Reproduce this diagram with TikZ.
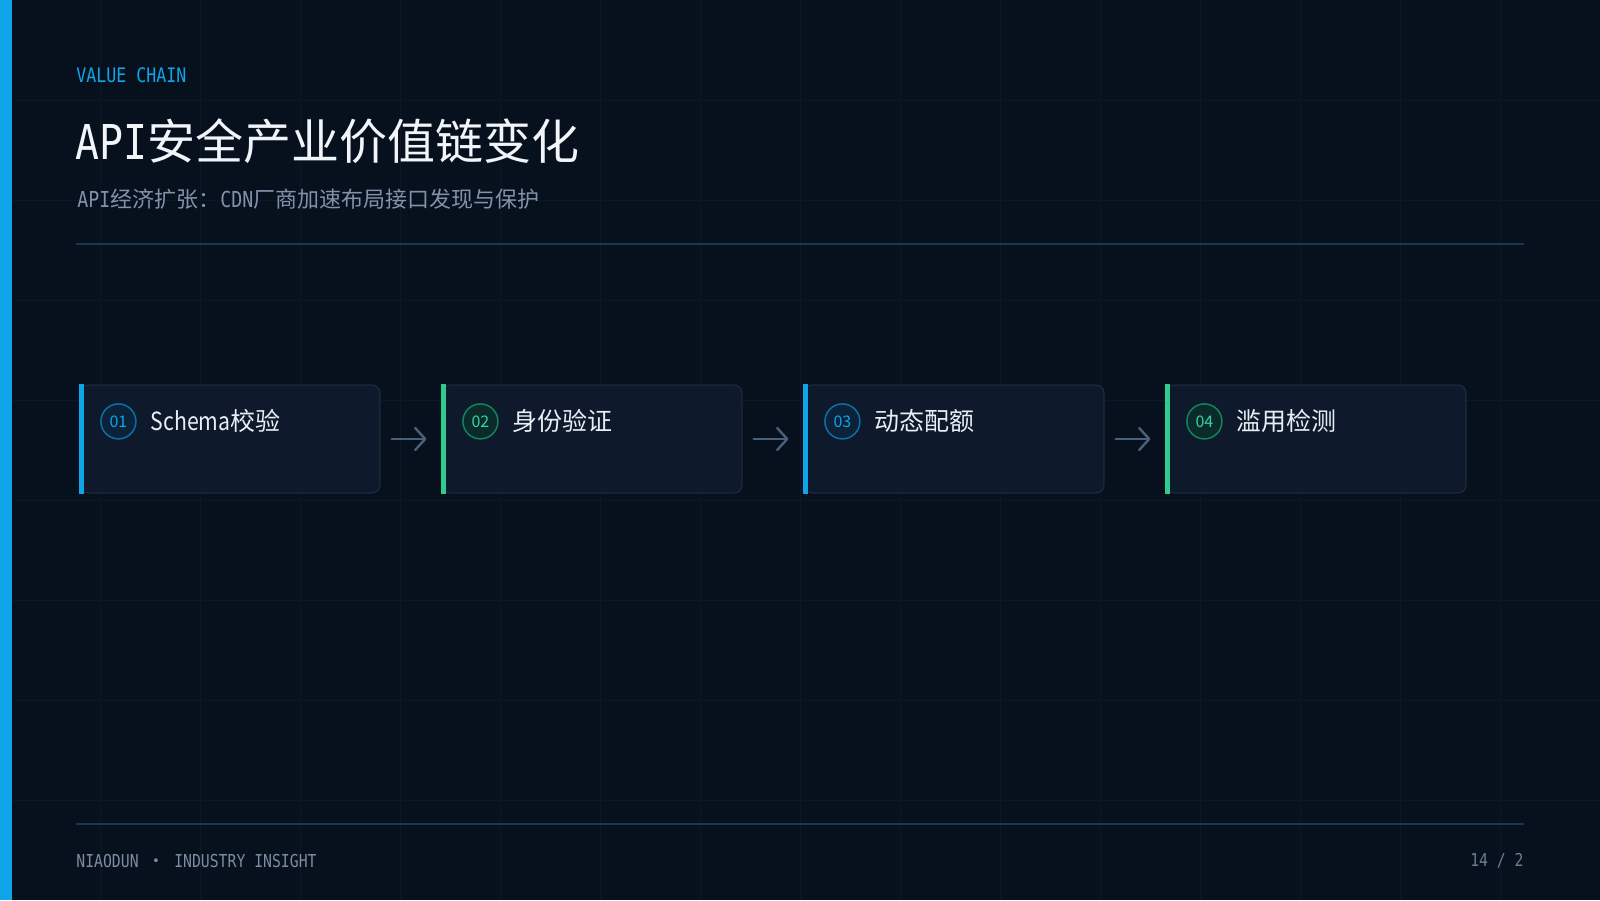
\documentclass[tikz,border=0pt]{standalone}
\usepackage{fontspec}
\setmainfont{Noto Sans CJK SC}
\newfontfamily\monofont[FakeStretch=0.83]{DejaVu Sans Mono}
\newfontfamily\narrowfont[FakeStretch=0.85]{Noto Sans CJK SC}
\usetikzlibrary{positioning,arrows.meta}

\definecolor{bgnavy}{HTML}{07101D}
\definecolor{gridc}{HTML}{0C1828}
\definecolor{skyblue}{HTML}{0EA5E9}
\definecolor{mint}{HTML}{2ECC8F}
\definecolor{titlec}{HTML}{F1F5F9}
\definecolor{subc}{HTML}{8193AB}
\definecolor{rulec}{HTML}{1E3452}
\definecolor{cardfill}{HTML}{0E1A2B}
\definecolor{cardline}{HTML}{1C2A3D}
\definecolor{arrowc}{HTML}{4A5F7B}
\definecolor{footc}{HTML}{7B8CA3}
\definecolor{pagec}{HTML}{6B7C93}
\definecolor{labelc}{HTML}{E8EEF5}
\definecolor{bluering}{HTML}{0B6FA6}
\definecolor{bluedisk}{HTML}{0B2239}
\definecolor{greenring}{HTML}{15805C}
\definecolor{greendisk}{HTML}{0B2A2A}
\definecolor{greennum}{HTML}{33D6A0}

\tikzset{
  gridline/.style={gridc, line width=0.5pt},
  rulel/.style={rulec, line width=1pt},
  card/.style={rectangle, rounded corners=4pt, fill=cardfill, draw=cardline,
    line width=0.6pt, minimum width=150pt, minimum height=54pt, inner sep=0pt},
  accent/.style={line width=2.5pt},
  badge/.style={circle, minimum size=17.5pt, inner sep=0pt, line width=0.75pt,
    font=\fontsize{8}{9}\selectfont},
  steplabel/.style={anchor=west, inner sep=0pt, text=labelc,
    font=\fontsize{12.5}{14}\selectfont},
  flow/.style={arrowc, line width=1.2pt, line cap=round,
    -{Straight Barb[length=5pt,width=11pt,round]}},
  txt/.style={anchor=west, inner sep=0pt}
}

\begin{document}
\begin{tikzpicture}[x=0.5pt, y=-0.5pt]
  \useasboundingbox (0,0) rectangle (1600,900);
  \fill[bgnavy] (0,0) rectangle (1600,900);
  % grid
  \foreach \x in {100,200,...,1500} \draw[gridline] (\x,0) -- (\x,900);
  \foreach \y in {100,200,...,800} \draw[gridline] (0,\y) -- (1600,\y);
  \fill[skyblue] (0,0) rectangle (12,900);

  % header
  \node[txt, text=skyblue, font=\monofont\fontsize{10}{12}\selectfont] (kicker) at (76,75) {VALUE CHAIN};
  \node[txt, text=titlec, font=\fontsize{24}{28}\selectfont] (title) at (75,141) {{\monofont API}安全产业价值链变化};
  \node[txt, text=subc, font=\fontsize{11}{14}\selectfont] (subtitle) at (77,199) {{\monofont API}经济扩张：{\monofont CDN}厂商加速布局接口发现与保护};
  \draw[rulel] (76,244) -- (1524,244);

  % stages
  \node[card] (s1) at (230,439) {};
  \node[card, right=30.4pt of s1] (s2) {};
  \node[card, right=30.4pt of s2] (s3) {};
  \node[card, right=30.4pt of s3] (s4) {};

  \foreach \i/\lab/\acc/\ring/\disk/\num in {
      1/{{\narrowfont Schema}校验}/skyblue/bluering/bluedisk/skyblue,
      2/身份验证/mint/greenring/greendisk/greennum,
      3/动态配额/skyblue/bluering/bluedisk/skyblue,
      4/滥用检测/mint/greenring/greendisk/greennum}{
    \draw[accent, \acc] ([xshift=1.25pt]s\i.north west) -- ([xshift=1.25pt]s\i.south west);
    \node[badge, draw=\ring, fill=\disk, text=\num] (b\i)
      at ([xshift=19.5pt, yshift=-18.5pt]s\i.north west) {0\i};
    \node[steplabel] (t\i) at ([xshift=35.5pt, yshift=-18.5pt]s\i.north west) {\lab};
  }

  \foreach \a/\b in {1/2,2/3,3/4}
    \draw[flow, shorten <=5.5pt, shorten >=7.5pt] (s\a.east) -- (s\b.west);

  % footer
  \draw[rulel] (76,824) -- (1524,824);
  \node[txt, text=footc, font=\monofont\fontsize{8.9}{11}\selectfont] (brand) at (76,861) {NIAODUN {\fontspec{Noto Sans CJK SC}・} INDUSTRY INSIGHT};
  \node[anchor=east, inner sep=0pt, text=pagec, font=\monofont\fontsize{8.9}{11}\selectfont] (page) at (1524,861) {14 / 2};
\end{tikzpicture}
\end{document}
